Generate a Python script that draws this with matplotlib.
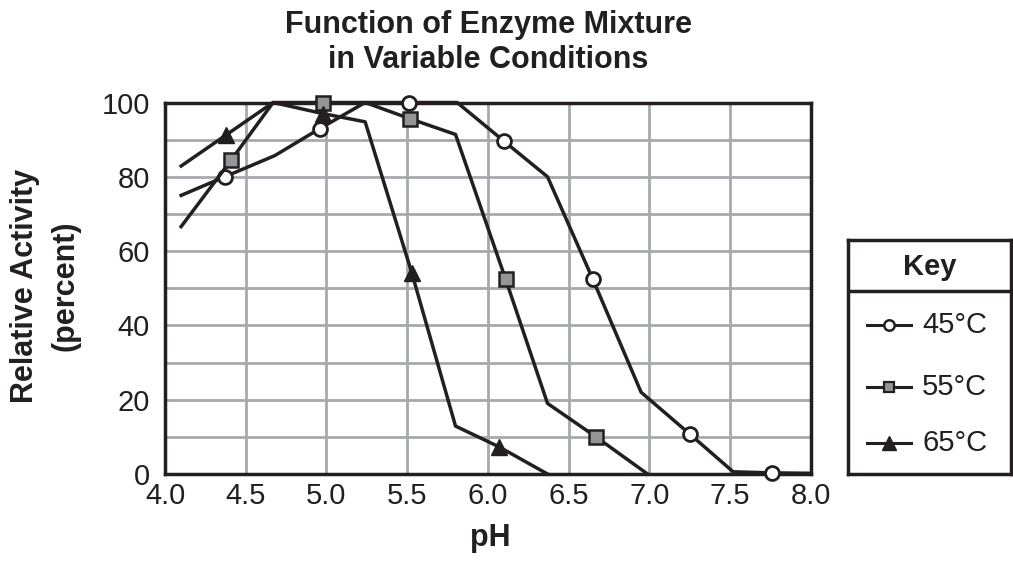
import matplotlib
matplotlib.use("Agg")
import matplotlib.pyplot as plt
from matplotlib.lines import Line2D

plt.rcParams['font.family'] = ['Liberation Sans', 'DejaVu Sans']

# Data
ph_45 = [4.1, 4.37, 4.68, 4.96, 5.24, 5.51, 5.81, 6.10, 6.37, 6.65, 6.95, 7.25, 7.52, 7.76, 8.0]
act_45 = [75, 80, 85.7, 93, 100, 100, 100, 89.6, 80, 52.5, 22, 10.8, 0.6, 0.3, 0.2]
mk_45 = [1, 3, 5, 7, 9, 11, 13]

ph_55 = [4.1, 4.41, 4.67, 4.98, 5.24, 5.52, 5.80, 6.11, 6.37, 6.67, 6.99]
act_55 = [66.6, 84.5, 100, 100, 100, 95.6, 91.4, 52.5, 19, 10, 0]
mk_55 = [1, 3, 5, 7, 9]

ph_65 = [4.1, 4.38, 4.67, 4.98, 5.24, 5.53, 5.80, 6.07, 6.37]
act_65 = [82.9, 91.3, 100, 97, 94.8, 54, 12.9, 7.3, 0]
mk_65 = [1, 3, 5, 7]

x_ticks = [4.0, 4.5, 5.0, 5.5, 6.0, 6.5, 7.0, 7.5, 8.0]
y_ticks = [0, 20, 40, 60, 80, 100]
labels = ["45°C", "55°C", "65°C"]

W, H = 1013, 578
fig = plt.figure(figsize=(W / 100, H / 100), dpi=100)

def fx(px):
    return px / W

def fy(py):
    return 1 - py / H

lc = '#231f20'
ax = fig.add_axes([fx(165), fy(474), fx(810.6) - fx(165), fy(102.5) - fy(474)])
ax.set_xlim(4.0, 8.0)
ax.set_ylim(0, 100)
ax.set_xticks(x_ticks)
ax.set_xticklabels([f"{v:.1f}" for v in x_ticks])
ax.set_yticks(y_ticks)
ax.set_yticks(list(range(0, 101, 10)), minor=True)
ax.tick_params(which='both', length=0, labelsize=21, colors=lc)
ax.tick_params(axis='x', pad=6)
ax.tick_params(axis='y', pad=11)
ax.grid(True, which='major', color='#a7a9ac', lw=2)
ax.grid(True, which='minor', axis='y', color='#a7a9ac', lw=2)
ax.set_axisbelow(True)
for s in ax.spines.values():
    s.set_linewidth(2.5)
    s.set_color(lc)

ax.plot(ph_45, act_45, color=lc, lw=2.5, marker='o', markevery=mk_45, ms=10,
        mfc='white', mec=lc, mew=2, clip_on=False, zorder=3)
ax.plot(ph_55, act_55, color=lc, lw=2.5, marker='s', markevery=mk_55, ms=9.5,
        mfc='#939598', mec=lc, mew=1.8, clip_on=False, zorder=3)
ax.plot(ph_65, act_65, color=lc, lw=2.5, marker='^', markevery=mk_65, ms=12,
        mfc=lc, mec=lc, mew=1, clip_on=False, zorder=3)

# Axis labels and title
fig.text(fx(490), fy(538), "pH", ha='center', va='center', fontsize=22,
         fontweight='bold', color=lc)
fig.text(fx(25), fy(286), "Relative Activity", ha='center', va='center',
         rotation=90, fontsize=22, fontweight='bold', color=lc)
fig.text(fx(65), fy(286), "(percent)", ha='center', va='center',
         rotation=90, fontsize=22, fontweight='bold', color=lc)
fig.text(fx(488), fy(33), "Function of Enzyme Mixture", ha='center',
         va='baseline', fontsize=22, fontweight='bold', color=lc)
fig.text(fx(488), fy(68), "in Variable Conditions", ha='center',
         va='baseline', fontsize=22, fontweight='bold', color=lc)

# Key box
lx0, ly0, lx1, ly1 = 848, 240, 1011, 474
lax = fig.add_axes([fx(lx0), fy(ly1), fx(lx1) - fx(lx0), fy(ly0) - fy(ly1)])
lax.set_xlim(lx0, lx1)
lax.set_ylim(ly1, ly0)
lax.set_xticks([])
lax.set_yticks([])
for s in lax.spines.values():
    s.set_linewidth(2.5)
    s.set_color(lc)
lax.axhline(291, color=lc, lw=2.5)
lax.text((lx0 + lx1) / 2, 267, "Key", ha='center', va='center', fontsize=21,
         fontweight='bold', color=lc)
styles = [dict(marker='o', ms=7.5, mfc='white', mec=lc, mew=1.8),
          dict(marker='s', ms=7.5, mfc='#939598', mec=lc, mew=1.6),
          dict(marker='^', ms=10, mfc=lc, mec=lc, mew=1)]
ys = [325, 387, 443]
for lab, st, yy in zip(labels, styles, ys):
    lax.add_line(Line2D([867, 911], [yy, yy], color=lc, lw=2.2))
    lax.plot([889], [yy], color=lc, linestyle='none', **st)
    lax.text(922, yy, lab, ha='left', va='center', fontsize=21, color=lc)

fig.savefig("out.png", dpi=100)
